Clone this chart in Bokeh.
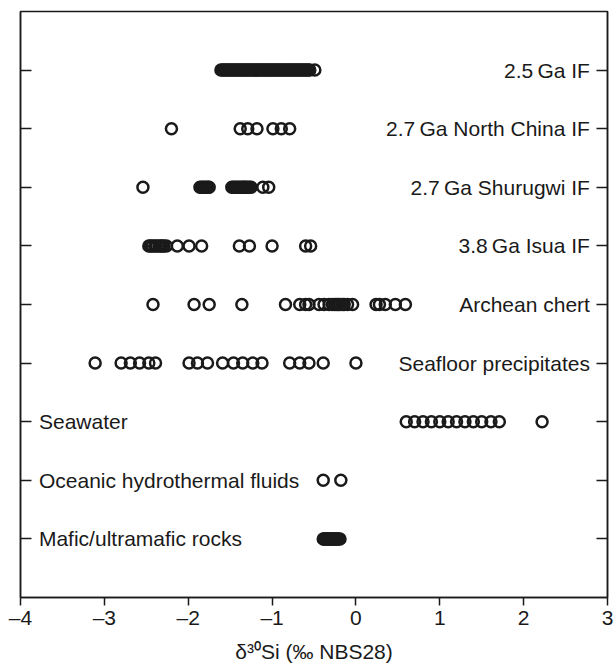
from bokeh.plotting import figure
from bokeh.models import Range1d, FixedTicker, LinearAxis, ColumnDataSource
from bokeh.core.properties import value
from bokeh.embed import file_html
from bokeh.resources import INLINE

# Categories, bottom to top
categories = [
    "Mafic/ultramafic rocks",
    "Oceanic hydrothermal fluids",
    "Seawater",
    "Seafloor precipitates",
    "Archean chert",
    "3.8\u2009Ga Isua IF",
    "2.7\u2009Ga Shurugwi IF",
    "2.7\u2009Ga North China IF",
    "2.5\u2009Ga IF",
]

mafic = [-0.39, -0.38, -0.37, -0.35, -0.34, -0.33, -0.31, -0.30, -0.29, -0.27, -0.26,
         -0.25, -0.23, -0.22, -0.21, -0.19]
hydrothermal = [-0.39, -0.18]
seawater = [0.60, 0.70, 0.80, 0.90, 1.00, 1.10, 1.20, 1.30, 1.40, 1.50, 1.61, 1.71, 2.22]
seafloor = [-3.11, -2.80, -2.69, -2.58, -2.47, -2.39, -1.99, -1.89, -1.77, -1.59,
            -1.46, -1.35, -1.23, -1.12, -0.79, -0.67, -0.56, -0.39, 0.00]
chert = [-2.42, -1.93, -1.75, -1.36, -0.84, -0.67, -0.60, -0.56, -0.44, -0.38, -0.32,
         -0.28, -0.25, -0.23, -0.21, -0.19, -0.16, -0.14, -0.10, -0.04, 0.24, 0.28, 0.35,
         0.47, 0.59]
isua = [-2.47, -2.45, -2.43, -2.40, -2.38, -2.35, -2.33, -2.31, -2.29, -2.26, -2.13,
        -1.99, -1.84, -1.39, -1.27, -1.00, -0.60, -0.54]
shurugwi = [-2.54, -1.86, -1.84, -1.82, -1.80, -1.78, -1.76, -1.75, -1.48, -1.46, -1.44,
            -1.42, -1.40, -1.38, -1.36, -1.34, -1.33, -1.31, -1.29, -1.27, -1.25, -1.11,
            -1.04]
north_china = [-2.20, -1.38, -1.29, -1.18, -0.99, -0.89, -0.79]
ga25 = [-1.61, -1.59, -1.57, -1.55, -1.53, -1.51, -1.49, -1.47, -1.45, -1.43, -1.41,
        -1.39, -1.37, -1.35, -1.33, -1.31, -1.29, -1.27, -1.25, -1.23, -1.21, -1.19,
        -1.17, -1.15, -1.13, -1.11, -1.09, -1.07, -1.05, -1.03, -1.01, -0.99, -0.97,
        -0.95, -0.93, -0.91, -0.89, -0.87, -0.85, -0.83, -0.81, -0.79, -0.77, -0.75,
        -0.73, -0.71, -0.69, -0.67, -0.65, -0.63, -0.61, -0.59, -0.57, -0.55, -0.49]

series = [mafic, hydrothermal, seawater, seafloor, chert, isua, shurugwi, north_china, ga25]

x_ticks = [-4, -3, -2, -1, 0, 1, 2, 3]
x_tick_labels = ["\u20134", "\u20133", "\u20132", "\u20131", "0", "1", "2", "3"]
x_title = "\u03b4\u00b3\u2070Si (\u2030 NBS28)"

FONT = "Liberation Sans"
INK = "#1a1a1a"

p = figure(frame_width=587, frame_height=586, output_backend="svg", toolbar_location=None,
           x_range=Range1d(-4, 3), y_range=Range1d(0, 10),
           min_border_left=20, min_border_right=7, min_border_top=11, min_border_bottom=71)
p.background_fill_color = "white"
p.border_fill_color = "white"
p.outline_line_color = INK
p.outline_line_width = 1.5
p.xgrid.visible = False
p.ygrid.visible = False

# points
xs, ys = [], []
for i, vals in enumerate(series):
    xs.extend(vals)
    ys.extend([i + 1] * len(vals))
p.scatter(x=xs, y=ys, marker="circle", size=11, fill_color=None,
          line_color=INK, line_width=2.5)

# category labels
right_src = ColumnDataSource(dict(x=[2.79] * 6, y=list(range(4, 10)), t=categories[3:]))
left_src = ColumnDataSource(dict(x=[-3.78] * 3, y=[1, 2, 3], t=categories[:3]))
p.text(x="x", y="y", text="t", source=right_src, text_align="right", text_baseline="middle",
       text_font=value(FONT), text_font_size="21px", text_color=INK)
p.text(x="x", y="y", text="t", source=left_src, text_align="left", text_baseline="middle",
       text_font=value(FONT), text_font_size="21px", text_color=INK)

# x axis
xa = p.xaxis[0]
xa.ticker = FixedTicker(ticks=x_ticks)
xa.major_label_overrides = {t: l for t, l in zip(x_ticks, x_tick_labels)}
xa.major_tick_in = 0
xa.major_tick_out = 8
xa.minor_tick_line_color = None
xa.major_label_standoff = 0
xa.major_label_text_font = FONT
xa.major_label_text_font_size = "21px"
xa.major_label_text_color = INK
xa.axis_line_color = INK
xa.axis_line_width = 1.5
xa.major_tick_line_color = INK
xa.major_tick_line_width = 1.5
xa.axis_label = x_title
xa.axis_label_text_font = FONT
xa.axis_label_text_font_size = "21px"
xa.axis_label_text_font_style = "normal"
xa.axis_label_text_color = INK
xa.axis_label_standoff = 8

# y axes (ticks only, pointing inward, no labels)
row_ticks = list(range(1, 10))

def style_y(ax):
    ax.ticker = FixedTicker(ticks=row_ticks)
    ax.major_label_overrides = {t: "" for t in row_ticks}
    ax.major_tick_in = 11
    ax.major_tick_out = 0
    ax.minor_tick_line_color = None
    ax.major_label_standoff = 0
    ax.axis_line_color = INK
    ax.axis_line_width = 1.5
    ax.major_tick_line_color = INK
    ax.major_tick_line_width = 1.5

style_y(p.yaxis[0])
ra = LinearAxis()
style_y(ra)
p.add_layout(ra, "right")

open("out.html", "w").write(file_html(p, INLINE))
